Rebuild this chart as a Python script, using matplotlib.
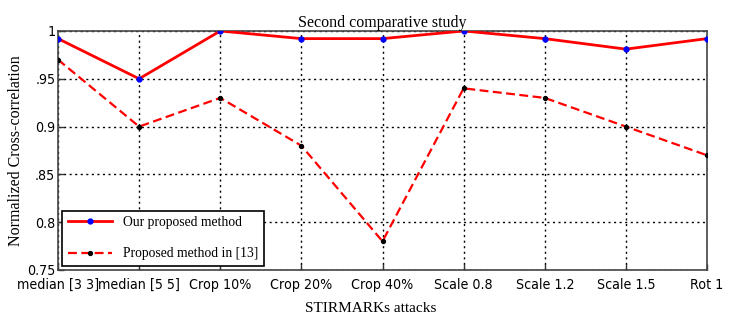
import matplotlib
matplotlib.use("Agg")
import matplotlib.pyplot as plt
from matplotlib import font_manager

categories = ["median [3 3]", "median [5 5]", "Crop 10%", "Crop 20%", "Crop 40%",
              "Scale 0.8", "Scale 1.2", "Scale 1.5", "Rot 1"]
ours = [0.992, 0.95, 1.0, 0.992, 0.992, 1.0, 0.992, 0.981, 0.992]
ref13 = [0.97, 0.90, 0.93, 0.88, 0.78, 0.94, 0.93, 0.90, 0.87]
yticks = [0.75, 0.8, 0.85, 0.9, 0.95, 1.0]
ytick_labels = ["0.75", "0.8", ".85", "0.9", ".95", "1"]

cond = [f for f in font_manager.fontManager.ttflist
        if ("Narrow" in f.name or "Condensed" in f.name or
            (isinstance(f.stretch, str) and "condensed" in f.stretch) or
            (isinstance(f.stretch, int) and f.stretch < 500))
        and f.weight in (400, "normal", "regular") and f.style == "normal"]
if cond:
    tick_font = font_manager.FontProperties(fname=cond[0].fname, size=10.2)
else:
    tick_font = font_manager.FontProperties(family="Liberation Sans", size=9)
serif = "Liberation Serif"

fig = plt.figure(figsize=(7.37, 3.24), dpi=100)
ax = fig.add_axes([0.0787, 0.1667, 0.8806, 0.7377])
x = list(range(len(categories)))
ax.plot(x, ours, color="red", lw=2, marker="o", ms=3.5, mfc="blue", mec="blue",
        label="Our proposed method", zorder=3)
ax.plot(x, ref13, color="red", lw=1.6, ls=(0, (4, 2)), marker="o", ms=2.8, mfc="black",
        mec="black", label="Proposed method in [13]", zorder=3)
ax.set_xlim(0, len(categories) - 1)
ax.set_ylim(0.75, 1.0)
ax.set_xticks(x)
ax.set_xticklabels(categories, fontproperties=tick_font)
ax.set_yticks(yticks)
ax.set_yticklabels(ytick_labels, fontproperties=tick_font)
ax.tick_params(direction="in", length=4, width=1, pad=2, color="#333333")
ax.tick_params(axis="x", pad=5.5)
ax.grid(True, color="black", ls=(0, (1.5, 2.5)), lw=1)
for s in ax.spines.values():
    s.set_color("#444444")
    s.set_linewidth(1.2)
ax.set_title("Second comparative study", fontfamily=serif, fontsize=11.5, pad=3)
ax.set_xlabel("STIRMARKs attacks", fontfamily=serif, fontsize=11)
ax.xaxis.set_label_coords(0.482, -0.135)
ax.set_ylabel("Normalized Cross-correlation", fontfamily=serif, fontsize=11.5, labelpad=2)
leg = ax.legend(loc="lower left", prop={"family": serif, "size": 9.8}, fancybox=False,
                edgecolor="black", framealpha=1, borderaxespad=0.3, handlelength=3.3,
                labelspacing=1.35)
leg.get_frame().set_linewidth(1.2)
fig.savefig("out.png", dpi=100)
